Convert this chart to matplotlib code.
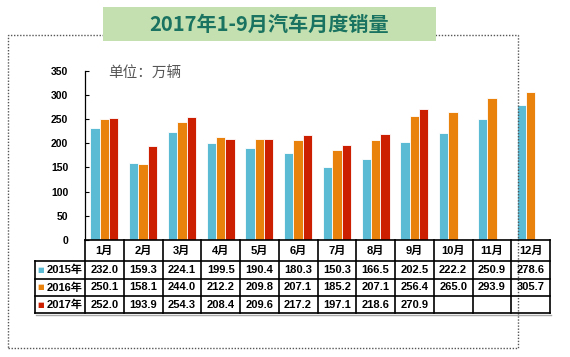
import matplotlib.pyplot as plt
import matplotlib.transforms as mtransforms
from matplotlib.patches import Rectangle
from matplotlib.lines import Line2D

plt.rcParams['font.family'] = ['Liberation Sans', 'Noto Sans CJK SC']

# data
months = ['1月', '2月', '3月', '4月', '5月', '6月', '7月', '8月', '9月', '10月', '11月', '12月']
years = ['2015年', '2016年', '2017年']
sales_2015 = [232.0, 159.3, 224.1, 199.5, 190.4, 180.3, 150.3, 166.5, 202.5, 222.2, 250.9, 278.6]
sales_2016 = [250.1, 158.1, 244.0, 212.2, 209.8, 207.1, 185.2, 207.1, 256.4, 265.0, 293.9, 305.7]
sales_2017 = [252.0, 193.9, 254.3, 208.4, 209.6, 217.2, 197.1, 218.6, 270.9]
series = [sales_2015, sales_2016, sales_2017]
colors = ['#5bbbd4', '#e8820c', '#cc1e00']
yticks = [0, 50, 100, 150, 200, 250, 300, 350]

W, H = 570, 357
fig = plt.figure(figsize=(W / 100, H / 100), dpi=100)


def fy(py):
    return 1 - py / H


# dotted outer frame
frame = Rectangle((8 / W, fy(348)), (518 - 8) / W, (348 - 35) / H, transform=fig.transFigure,
                  fill=False, edgecolor='#555555', linestyle=(0, (1, 1.2)), linewidth=1.0)
fig.patches.append(frame)

# title box
title_box = Rectangle((103 / W, fy(41)), (436 - 103) / W, (41 - 7) / H, transform=fig.transFigure,
                      facecolor='#c4e0b0', edgecolor='none', zorder=3)
fig.patches.append(title_box)
fig.text((103 + 436) / 2 / W, fy(24), '2017年1-9月汽车月度销量', ha='center', va='center',
         fontsize=14.5, color='#1a7360', family=['Noto Sans CJK SC'], weight='bold', zorder=4)

# bar axes
ax = fig.add_axes([85 / W, fy(240), (550 - 85) / W, (240 - 70.7) / H])
n = len(months)
width = 0.24
for k, vals in enumerate(series):
    xs = [i + (k - 1) * width for i in range(len(vals))]
    ax.bar(xs, vals, width=width, color=colors[k], edgecolor='white', linewidth=0.6)

ax.set_xlim(-0.5, n - 0.5)
ax.set_ylim(0, 350)
ax.set_yticks(yticks)
ax.set_yticklabels([str(t) for t in yticks], fontsize=7.5, weight='bold')
ax.tick_params(axis='y', direction='in', length=3, width=0.8, pad=12)
ax.set_xticks([])
for side in ['top', 'right', 'bottom']:
    ax.spines[side].set_visible(False)
ax.spines['left'].set_linewidth(0.9)
ax.patch.set_alpha(0)

ax.text(0.05, 0.98, '单位：万辆', transform=ax.transAxes, ha='left', va='center',
        fontsize=10.5, color='#555555', family=['Noto Sans CJK SC'])

# data table under the axes
tr = mtransforms.blended_transform_factory(ax.transData, fig.transFigure)
row_y = [240, 261, 278.7, 296, 313.3]
lab_left = -0.5 - (85 - 35) / 38.75
lw = 1.2

# horizontal lines
fig.lines.append(Line2D([-0.5, n - 0.5], [fy(240)] * 2, transform=tr, color='black', lw=lw))
for py in row_y[1:]:
    fig.lines.append(Line2D([lab_left, n - 0.5], [fy(py)] * 2, transform=tr, color='black', lw=lw))
# vertical lines
for i in range(n + 1):
    fig.lines.append(Line2D([i - 0.5] * 2, [fy(240), fy(313.3)], transform=tr, color='black', lw=lw))
fig.lines.append(Line2D([lab_left] * 2, [fy(261), fy(313.3)], transform=tr, color='black', lw=lw))
# light shadow under table
fig.lines.append(Line2D([lab_left + 0.03, n - 0.47], [fy(314.6)] * 2, transform=tr, color='#aaaaaa', lw=1.0))

# header
for i, m in enumerate(months):
    fig.text(i, fy((240 + 261) / 2), m, transform=tr, ha='center', va='center',
             fontsize=8, weight='bold')

# rows
for r, (yr, vals) in enumerate(zip(years, series)):
    yc = fy((row_y[r + 1] + row_y[r + 2]) / 2)
    fig.text(lab_left + 0.05, yc, '■', transform=tr, ha='left', va='center',
             fontsize=5, color=colors[r], family=['DejaVu Sans'])
    fig.text(-0.5 - 0.07, yc, yr, transform=tr, ha='right', va='center',
             fontsize=8, weight='bold')
    for i, v in enumerate(vals):
        fig.text(i, yc, f'{v:.1f}', transform=tr, ha='center', va='center',
                 fontsize=8, weight='bold')

fig.savefig('out.png', dpi=100)
